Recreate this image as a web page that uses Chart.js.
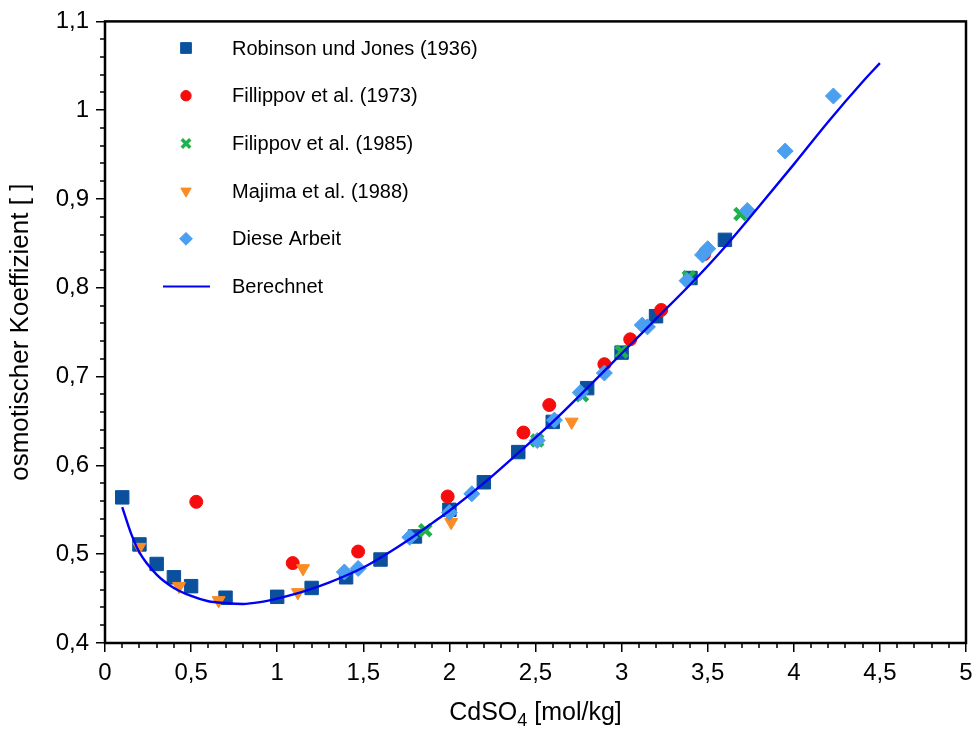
<!DOCTYPE html>
<html>
<head>
<meta charset="utf-8">
<script src="https://cdn.jsdelivr.net/npm/chart.js@4.4.0/dist/chart.umd.min.js"></script>
<style>
  html, body { margin: 0; padding: 0; background: #fff; }
  #wrap { width: 980px; height: 731px; }
</style>
</head>
<body>
<div id="wrap"><canvas id="chart" width="980" height="731"></canvas></div>
<script>
// --- data ---
const robinsonX = [0.1, 0.2, 0.3, 0.4, 0.5, 0.7, 1.0, 1.2, 1.4, 1.6, 1.8, 2.0, 2.2, 2.4, 2.6, 2.8, 3.0, 3.2, 3.4, 3.6];
const robinsonY = [0.564, 0.511, 0.489, 0.474, 0.464, 0.451, 0.452, 0.462, 0.474, 0.494, 0.520, 0.550, 0.581, 0.615, 0.649, 0.687, 0.727, 0.768, 0.811, 0.854];

const fil73X = [0.53, 1.09, 1.47, 1.99, 2.43, 2.58, 2.90, 3.05, 3.23, 3.48];
const fil73Y = [0.559, 0.490, 0.503, 0.565, 0.637, 0.668, 0.714, 0.742, 0.775, 0.838];

const fil85X = [1.86, 2.51, 2.77, 3.00, 3.39, 3.69];
const fil85Y = [0.527, 0.628, 0.679, 0.728, 0.812, 0.883];

const majimaX = [0.20, 0.43, 0.66, 1.12, 1.15, 2.01, 2.71];
const majimaY = [0.508, 0.464, 0.448, 0.457, 0.484, 0.536, 0.649];

const dieseX = [1.39, 1.47, 1.77, 2.00, 2.13, 2.51, 2.61, 2.76, 2.90, 3.12, 3.15, 3.38, 3.47, 3.50, 3.73, 3.95, 4.23];
const dieseY = [0.480, 0.484, 0.519, 0.547, 0.568, 0.628, 0.651, 0.682, 0.704, 0.758, 0.756, 0.808, 0.837, 0.844, 0.887, 0.954, 1.016];

const calcX = [0.1, 0.15, 0.2, 0.3, 0.4, 0.5, 0.6, 0.7, 0.8, 0.9, 1.0, 1.1, 1.2, 1.3, 1.4, 1.5, 1.6, 1.7, 1.8, 1.9, 2.0, 2.2, 2.4, 2.6, 2.8, 3.0, 3.2, 3.4, 3.6, 3.8, 4.0, 4.2, 4.4, 4.5];
const calcY = [0.553, 0.524, 0.502, 0.477, 0.462, 0.453, 0.447, 0.445, 0.444, 0.446, 0.450, 0.455, 0.461, 0.468, 0.476, 0.485, 0.496, 0.508, 0.521, 0.535, 0.549, 0.580, 0.614, 0.649, 0.687, 0.726, 0.765, 0.804, 0.846, 0.892, 0.939, 0.987, 1.032, 1.053];

const seriesNames = ['Robinson und Jones (1936)', 'Fillippov et al. (1973)', 'Filippov et al. (1985)', 'Majima et al. (1988)', 'Diese Arbeit', 'Berechnet'];

const xTicks = [0, 0.5, 1, 1.5, 2, 2.5, 3, 3.5, 4, 4.5, 5];
const yTicks = [0.4, 0.5, 0.6, 0.7, 0.8, 0.9, 1.0, 1.1];

const pts = (xs, ys) => xs.map((x, i) => ({ x: x, y: ys[i] }));
const fmt = v => String(Number(v.toFixed(2))).replace('.', ',');
const FONT = 'Arial, "Liberation Sans", sans-serif';

// minor ticks, frame, legend and x title with subscript
const decorPlugin = {
  id: 'decor',
  afterDraw(chart) {
    const ctx = chart.ctx;
    const area = chart.chartArea;
    const xs = chart.scales.x, ys = chart.scales.y;
    ctx.save();

    // minor ticks
    ctx.strokeStyle = '#000';
    ctx.lineWidth = 1.5;
    ctx.beginPath();
    for (let i = 0; i <= 50; i++) {
      if (i % 5 === 0) continue;
      const px = Math.round(xs.getPixelForValue(i / 10));
      ctx.moveTo(px, area.bottom);
      ctx.lineTo(px, area.bottom + 5);
    }
    for (let i = 0; i <= 35; i++) {
      if (i % 5 === 0) continue;
      const py = Math.round(ys.getPixelForValue(0.4 + i * 0.02));
      ctx.moveTo(area.left, py);
      ctx.lineTo(area.left - 5, py);
    }
    ctx.stroke();

    // frame
    ctx.lineWidth = 2.5;
    ctx.strokeRect(area.left, area.top, area.right - area.left, area.bottom - area.top);

    // legend
    const items = chart.data.datasets;
    ctx.font = '20px ' + FONT;
    ctx.textBaseline = 'middle';
    ctx.textAlign = 'left';
    items.forEach((ds, i) => {
      const ly = 48 + i * 47.7;
      const lx = 186;
      if (ds.type === 'line') {
        ctx.strokeStyle = ds.borderColor;
        ctx.lineWidth = 2;
        ctx.beginPath();
        ctx.moveTo(163, ly);
        ctx.lineTo(210, ly);
        ctx.stroke();
      } else {
        const isCross = ds.pointStyle === 'crossRot';
        ctx.fillStyle = ds.backgroundColor;
        ctx.strokeStyle = ds.borderColor;
        ctx.lineWidth = isCross ? 3.5 : 1;
        Chart.helpers.drawPoint(ctx, {
          pointStyle: ds.pointStyle,
          rotation: ds.pointRotation || 0,
          radius: ds.pointRadius * (isCross ? 0.75 : 0.8),
          borderWidth: ctx.lineWidth
        }, lx, ly);
      }
      ctx.fillStyle = '#000';
      ctx.fillText(ds.label, 232, ly + 1);
    });

    // x axis title with subscript
    const big = '25px ' + FONT, small = '18px ' + FONT;
    const p1 = 'CdSO', p2 = '4', p3 = ' [mol/kg]';
    ctx.font = big;
    const w1 = ctx.measureText(p1).width, w3 = ctx.measureText(p3).width;
    ctx.font = small;
    const w2 = ctx.measureText(p2).width;
    let tx = (area.left + area.right) / 2 - (w1 + w2 + w3) / 2;
    const base = 720;
    ctx.textBaseline = 'alphabetic';
    ctx.fillStyle = '#000';
    ctx.font = big;
    ctx.fillText(p1, tx, base);
    tx += w1;
    ctx.font = small;
    ctx.fillText(p2, tx, base + 6);
    tx += w2;
    ctx.font = big;
    ctx.fillText(p3, tx, base);

    ctx.restore();
  }
};

const ctx = document.getElementById('chart');
new Chart(ctx, {
  type: 'scatter',
  data: {
    datasets: [
      { label: seriesNames[0], data: pts(robinsonX, robinsonY), pointStyle: 'rect', pointRadius: 9.5,
        backgroundColor: '#0b509c', borderColor: '#0b509c', pointBorderWidth: 1, order: 5 },
      { label: seriesNames[1], data: pts(fil73X, fil73Y), pointStyle: 'circle', pointRadius: 6.5,
        backgroundColor: '#f50d0d', borderColor: '#f50d0d', pointBorderWidth: 1, order: 4 },
      { label: seriesNames[2], data: pts(fil85X, fil85Y), pointStyle: 'crossRot', pointRadius: 8,
        backgroundColor: '#1fb24a', borderColor: '#1fb24a', pointBorderWidth: 4.5, order: 3 },
      { label: seriesNames[3], data: pts(majimaX, majimaY), pointStyle: 'triangle', pointRotation: 180, pointRadius: 7.5,
        backgroundColor: '#fb8b24', borderColor: '#fb8b24', pointBorderWidth: 1, order: 2 },
      { label: seriesNames[4], data: pts(dieseX, dieseY), pointStyle: 'rectRot', pointRadius: 8,
        backgroundColor: '#4a9ff0', borderColor: '#4a9ff0', pointBorderWidth: 1, order: 1 },
      { label: seriesNames[5], type: 'line', data: pts(calcX, calcY), showLine: true, pointRadius: 0,
        borderColor: '#0000f5', borderWidth: 2.4, fill: false, cubicInterpolationMode: 'monotone', order: 0 }
    ]
  },
  options: {
    responsive: false,
    animation: false,
    devicePixelRatio: 1,
    layout: { padding: { top: 19, right: 14, left: 0, bottom: 0 } },
    plugins: { legend: { display: false }, tooltip: { enabled: false } },
    scales: {
      x: {
        type: 'linear', min: 0, max: 5,
        afterBuildTicks: s => { s.ticks = xTicks.map(v => ({ value: v })); },
        afterFit: s => { s.height = 88; },
        ticks: { callback: v => fmt(v), color: '#000', font: { size: 24, family: FONT }, padding: 7, maxRotation: 0 },
        grid: { drawOnChartArea: false, tickLength: 9, color: '#000', lineWidth: 1.5 },
        border: { display: false }
      },
      y: {
        type: 'linear', min: 0.4, max: 1.1,
        afterBuildTicks: s => { s.ticks = yTicks.map(v => ({ value: v })); },
        afterFit: s => { s.width = 105; },
        ticks: { callback: v => fmt(v), color: '#000', font: { size: 24, family: FONT }, padding: 7 },
        grid: { drawOnChartArea: false, tickLength: 9, color: '#000', lineWidth: 1.5 },
        border: { display: false },
        title: { display: true, text: 'osmotischer Koeffizient [ ]', color: '#000',
                 font: { size: 26, family: FONT }, padding: { top: 5, bottom: 0 } }
      }
    }
  },
  plugins: [decorPlugin]
});
</script>
</body>
</html>
